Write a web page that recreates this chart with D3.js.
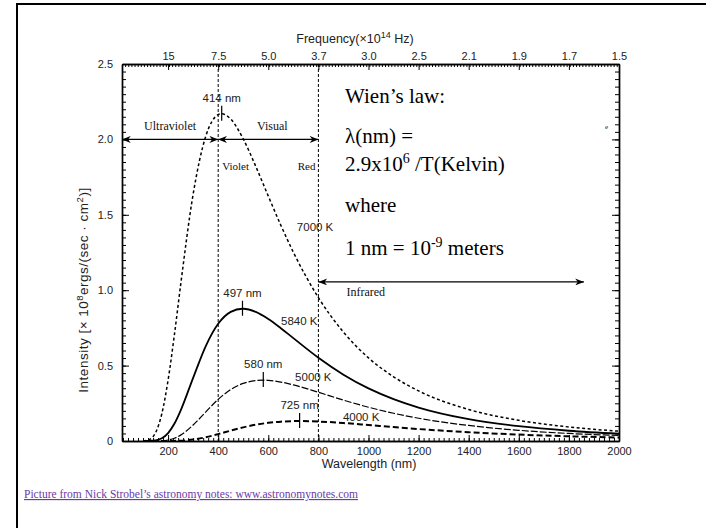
<!DOCTYPE html>
<html>
<head>
<meta charset="utf-8">
<script src="https://cdn.jsdelivr.net/npm/d3@7"></script>
<style>
  body { margin: 0; background: #fff; }
  svg { display: block; }
</style>
</head>
<body>
<div id="chart"></div>
<script>
// blackbody curves (intensity in 10^8 ergs/(sec cm^2))
var wavelengths = [100, 125, 150, 175, 200, 225, 250, 300, 350, 400, 450, 500, 550, 600, 650, 700, 800, 900, 1000, 1100, 1200, 1400, 1600, 1800, 2000];
var t7000 = [0.0004, 0.009, 0.055, 0.181, 0.404, 0.702, 1.034, 1.637, 2.019, 2.164, 2.135, 2.003, 1.821, 1.624, 1.431, 1.252, 0.951, 0.722, 0.551, 0.426, 0.332, 0.209, 0.137, 0.093, 0.065];
var t5840 = [0, 0.0003, 0.0036, 0.0176, 0.0525, 0.114, 0.202, 0.419, 0.628, 0.777, 0.856, 0.877, 0.856, 0.809, 0.748, 0.682, 0.552, 0.440, 0.349, 0.278, 0.222, 0.145, 0.098, 0.068, 0.048];
var t5000 = [0, 0, 0.0002, 0.0017, 0.0066, 0.018, 0.039, 0.106, 0.192, 0.276, 0.341, 0.382, 0.401, 0.402, 0.391, 0.372, 0.323, 0.271, 0.224, 0.184, 0.151, 0.103, 0.071, 0.050, 0.037];
var t4000 = [0, 0, 0, 0, 0.0002, 0.0007, 0.0022, 0.0096, 0.0246, 0.0456, 0.0688, 0.0903, 0.1079, 0.1206, 0.1284, 0.1318, 0.1292, 0.1191, 0.1058, 0.0921, 0.0793, 0.0579, 0.0423, 0.0312, 0.0233];

var tempLabels = ["7000 K", "5840 K", "5000 K", "4000 K"];
var peakWl = [414, 497, 580, 725];
var peakVal = [2.17, 0.877, 0.404, 0.132];
var peakLabels = ["414 nm", "497 nm", "580 nm", "725 nm"];

var xTicks = [200, 400, 600, 800, 1000, 1200, 1400, 1600, 1800, 2000];
var xTickLabels = ["200", "400", "600", "800", "1000", "1200", "1400", "1600", "1800", "2000"];
var freqLabels = ["15", "7.5", "5.0", "3.7", "3.0", "2.5", "2.1", "1.9", "1.7", "1.5"];
var yTicks = [0, 0.5, 1.0, 1.5, 2.0, 2.5];
var yTickLabels = ["0", "0.5", "1.0", "1.5", "2.0", "2.5"];

var bandNames = ["Ultraviolet", "Visual", "Infrared"];
var bandFrom = [16, 400, 800];
var bandTo = [400, 800, 1860];

// layout
var W = 706, H = 528;
var sans = "'Liberation Sans', Arial, Helvetica, sans-serif";
var serif = "'Liberation Serif', 'Times New Roman', Times, serif";
var lineStyles = [
  { w: 1.5, dash: "3,2.5" },
  { w: 1.8, dash: null },
  { w: 1.2, dash: "7,2" },
  { w: 2, dash: "6,3" }
];
// where the temperature labels start (wavelength, intensity)
var tempLabelAt = [[714, 1.39], [651, 0.769], [707, 0.398], [898, 0.133]];

var svg = d3.select("#chart").append("svg").attr("width", W).attr("height", H);

// outer frame (cut by the window on the right and bottom)
svg.append("path")
  .attr("d", "M17," + H + "V4H" + W)
  .attr("fill", "none")
  .attr("stroke", "#000")
  .attr("stroke-width", 2);

var x = d3.scaleLinear().domain([16, 2000]).range([122, 619]);
var y = d3.scaleLinear().domain([0, 2.5]).range([441, 64]);

// axes
/**++++++++++++++++++++++++++++++++++++++++++++++++++++++++++++*/
function styleAxis(g) {
  g.select(".domain").attr("stroke", "#000").attr("stroke-width", 1.4);
  g.selectAll(".tick line").attr("stroke", "#000").attr("stroke-width", 1);
  g.selectAll("text").attr("font-family", sans).attr("font-size", 11).attr("fill", "#222");
}

// bottom
svg.append("g").attr("transform", "translate(0,441)")
  .call(d3.axisBottom(x).tickValues(d3.range(20, 2000, 20)).tickSize(-3).tickSizeOuter(0).tickFormat(""))
  .call(styleAxis);
svg.append("g").attr("transform", "translate(0,441)")
  .call(d3.axisBottom(x).tickValues(xTicks).tickSize(-6).tickSizeOuter(0).tickPadding(6)
    .tickFormat(function(d, i) { return xTickLabels[i]; }))
  .call(styleAxis);

// top (frequency)
svg.append("g").attr("transform", "translate(0,64)")
  .call(d3.axisTop(x).tickValues(d3.range(28.5, 2000, 12.5)).tickSize(-3).tickSizeOuter(0).tickFormat(""))
  .call(styleAxis);
svg.append("g").attr("transform", "translate(0,64)")
  .call(d3.axisTop(x).tickValues(xTicks).tickSize(-6).tickSizeOuter(0).tickPadding(4)
    .tickFormat(function(d, i) { return freqLabels[i]; }))
  .call(styleAxis);

// left
svg.append("g").attr("transform", "translate(122,0)")
  .call(d3.axisLeft(y).tickValues(d3.range(0, 2.5001, 0.05)).tickSize(-4).tickSizeOuter(0).tickFormat(""))
  .call(styleAxis);
svg.append("g").attr("transform", "translate(122,0)")
  .call(d3.axisLeft(y).tickValues(yTicks).tickSize(-7).tickSizeOuter(0).tickPadding(9)
    .tickFormat(function(d, i) { return yTickLabels[i]; }))
  .call(styleAxis);

// right
svg.append("g").attr("transform", "translate(619,0)")
  .call(d3.axisRight(y).tickValues(d3.range(0, 2.5001, 0.05)).tickSize(-4).tickSizeOuter(0).tickFormat(""))
  .call(styleAxis);
svg.append("g").attr("transform", "translate(619,0)")
  .call(d3.axisRight(y).tickValues(yTicks).tickSize(-7).tickSizeOuter(0).tickFormat(""))
  .call(styleAxis);

// axis titles
svg.append("text")
  .attr("x", 369).attr("y", 468)
  .attr("text-anchor", "middle")
  .attr("font-family", sans).attr("font-size", 12.5).attr("fill", "#222")
  .text("Wavelength (nm)");

var ft = svg.append("text")
  .attr("x", 355).attr("y", 43)
  .attr("text-anchor", "middle")
  .attr("font-family", sans).attr("font-size", 12.5).attr("fill", "#222");
ft.append("tspan").text("Frequency(\u00d710");
ft.append("tspan").attr("dy", -5).attr("font-size", 9).text("14");
ft.append("tspan").attr("dy", 5).text(" Hz)");

var yt = svg.append("text")
  .attr("transform", "translate(88,290) rotate(-90)")
  .attr("text-anchor", "middle")
  .attr("font-family", sans).attr("font-size", 13.5).attr("letter-spacing", 0.5).attr("fill", "#222");
yt.append("tspan").text("Intensity [\u00d7 10");
yt.append("tspan").attr("dy", -5).attr("font-size", 9.5).text("8");
yt.append("tspan").attr("dy", 5).text("ergs/(sec \u00b7 cm");
yt.append("tspan").attr("dy", -5).attr("font-size", 9.5).text("2");
yt.append("tspan").attr("dy", 5).text(")]");
/**++++++++++++++++++++++++++++++++++++++++++++++++++++++++++++*/

// band borders at 400 and 800 nm
svg.selectAll(".border")
  .data([400, 800])
  .enter()
  .append("line")
  .attr("x1", function(d) { return x(d); })
  .attr("x2", function(d) { return x(d); })
  .attr("y1", y(2.5))
  .attr("y2", y(0))
  .attr("stroke", "#000")
  .attr("stroke-width", 1)
  .attr("stroke-dasharray", "3,2");

// curves
/**++++++++++++++++++++++++++++++++++++++++++++++++++++++++++++*/
var series = [t7000, t5840, t5000, t4000].map(function(vals, i) {
  var pts = wavelengths.map(function(w, j) { return [w, vals[j]]; });
  pts.push([peakWl[i], peakVal[i]]);
  pts.sort(function(a, b) { return a[0] - b[0]; });
  return pts;
});

var line = d3.line()
  .x(function(d) { return x(d[0]); })
  .y(function(d) { return y(d[1]); })
  .curve(d3.curveMonotoneX);

svg.selectAll(".curve")
  .data(series)
  .enter()
  .append("path")
  .attr("class", "curve")
  .attr("d", line)
  .attr("fill", "none")
  .attr("stroke", "#000")
  .attr("stroke-width", function(d, i) { return lineStyles[i].w; })
  .attr("stroke-dasharray", function(d, i) { return lineStyles[i].dash; });

// peak marks and labels
peakWl.forEach(function(w, i) {
  svg.append("line")
    .attr("x1", x(w)).attr("x2", x(w))
    .attr("y1", y(peakVal[i]) - 8).attr("y2", y(peakVal[i]) + 7)
    .attr("stroke", "#000").attr("stroke-width", 1.2);
  svg.append("text")
    .attr("x", x(w)).attr("y", y(peakVal[i]) - 12)
    .attr("text-anchor", "middle")
    .attr("font-family", sans).attr("font-size", 11.5).attr("fill", "#222")
    .text(peakLabels[i]);
});

tempLabels.forEach(function(t, i) {
  svg.append("text")
    .attr("x", x(tempLabelAt[i][0])).attr("y", y(tempLabelAt[i][1]))
    .attr("font-family", sans).attr("font-size", 11.5).attr("fill", "#222")
    .text(t);
});
/**++++++++++++++++++++++++++++++++++++++++++++++++++++++++++++*/

// band arrows
var defs = svg.append("defs");
defs.append("marker")
  .attr("id", "arrow")
  .attr("viewBox", "0 0 10 8")
  .attr("refX", 10).attr("refY", 4)
  .attr("markerWidth", 10).attr("markerHeight", 7)
  .attr("markerUnits", "userSpaceOnUse")
  .attr("orient", "auto-start-reverse")
  .append("path")
  .attr("d", "M0,0L10,4L0,8L3,4Z")
  .attr("fill", "#000");

var bandLevel = [2.0, 2.0, 1.055];
bandNames.forEach(function(b, i) {
  svg.append("line")
    .attr("x1", x(bandFrom[i])).attr("x2", x(bandTo[i]))
    .attr("y1", y(bandLevel[i])).attr("y2", y(bandLevel[i]))
    .attr("stroke", "#000").attr("stroke-width", 1.2)
    .attr("marker-start", "url(#arrow)")
    .attr("marker-end", "url(#arrow)");
});

function serifLabel(tx, ty, t, anchor, size) {
  return svg.append("text")
    .attr("x", tx).attr("y", ty)
    .attr("text-anchor", anchor || "start")
    .attr("font-family", serif).attr("font-size", size || 12).attr("fill", "#111")
    .text(t);
}
serifLabel((x(bandFrom[0]) + x(bandTo[0])) / 2, y(2.0) - 9, bandNames[0], "middle", 12);
serifLabel((x(bandFrom[1]) + x(bandTo[1])) / 2 + 4, y(2.0) - 9, bandNames[1], "middle", 12);
serifLabel(x(bandFrom[2]) + 28, y(bandLevel[2]) + 14, bandNames[2], "start", 12);
serifLabel(x(400) + 4, 170, "Violet", "start", 11);
serifLabel(x(800) - 3, 170, "Red", "end", 11);
serifLabel(605, 129, "e", "start", 7);

// Wien's law note
var note = svg.append("g").attr("font-family", serif).attr("font-size", 21).attr("fill", "#000");
note.append("text").attr("x", 345).attr("y", 103).text("Wien\u2019s law:");
note.append("text").attr("x", 345).attr("y", 143).text("\u03bb(nm) =");
var l3 = note.append("text").attr("x", 345).attr("y", 171);
l3.append("tspan").text("2.9x10");
l3.append("tspan").attr("dy", -8).attr("font-size", 14).text("6");
l3.append("tspan").attr("dy", 8).text(" /T(Kelvin)");
note.append("text").attr("x", 345).attr("y", 212).text("where");
var l5 = note.append("text").attr("x", 345).attr("y", 255);
l5.append("tspan").text("1 nm = 10");
l5.append("tspan").attr("dy", -8).attr("font-size", 14).text("-9");
l5.append("tspan").attr("dy", 8).text(" meters");

// source line
svg.append("text")
  .attr("x", 24).attr("y", 498)
  .attr("font-family", serif).attr("font-size", 11.5).attr("fill", "#6a3aa6")
  .attr("text-decoration", "underline")
  .text("Picture from Nick Strobel\u2019s astronomy notes: www.astronomynotes.com");
</script>
</body>
</html>
